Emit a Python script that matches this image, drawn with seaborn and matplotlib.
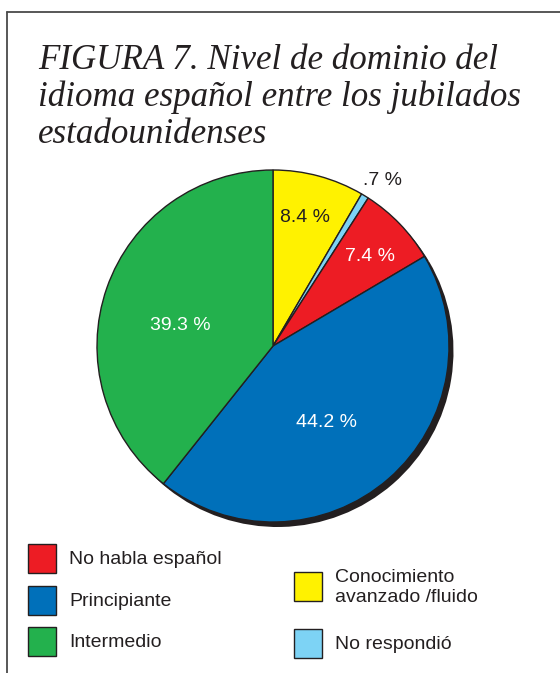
import numpy as np
import matplotlib
matplotlib.use("Agg")
import matplotlib.pyplot as plt
from matplotlib.patches import Rectangle
from matplotlib.lines import Line2D
import seaborn as sns

sns.set_theme(style="white")
plt.rcParams["font.family"] = ["Liberation Sans", "DejaVu Sans"]

# Survey shares, clockwise from 12 o'clock
categories = ["Conocimiento\navanzado /fluido", "No respondió", "No habla español",
              "Principiante", "Intermedio"]
shares = [8.4, 0.7, 7.4, 44.2, 39.3]
colors = ["#FFF200", "#7DD3F5", "#ED1C24", "#0070BA", "#23B14D"]
label_colors = ["#231F20", "#231F20", "white", "white", "white"]

# Legend order: left column then right column
legend_left = ["No habla español", "Principiante", "Intermedio"]
legend_right = ["Conocimiento\navanzado /fluido", "No respondió"]

title_lines = ["FIGURA 7. Nivel de dominio del",
               "idioma español entre los jubilados",
               "estadounidenses"]

W, H = 560, 673
fig = plt.figure(figsize=(W / 100, H / 100), dpi=100)
fig.patch.set_facecolor("white")

def fx(px):
    return px / W

def fy(py):
    return 1 - py / H

# Frame (top and left rules)
fig.add_artist(Line2D([fx(7), 1], [fy(12), fy(12)], color="#4a4a4a", lw=1.3))
fig.add_artist(Line2D([fx(7), fx(7)], [fy(12), 0], color="#4a4a4a", lw=1.3))

# Title
for i, line in enumerate(title_lines):
    fig.text(fx(38), fy(69 + 37 * i), line, family="Liberation Serif",
             style="italic", fontsize=25.2, color="#231F20", va="baseline", ha="left")

# Pie
cx, cy, r = 273, 346, 176
ax = fig.add_axes([fx(cx - r), (H - cy - r) / H, 2 * r / W, 2 * r / H])
ax.set_xlim(-1, 1)
ax.set_ylim(-1, 1)
ax.set_aspect("equal")
ax.axis("off")

# drop shadow
ax.pie(shares, colors=["#231F20"] * len(shares), startangle=90, counterclock=False,
       radius=1, center=(4.5 / r, -5 / r), wedgeprops=dict(linewidth=0),
       frame=False)
wedges, _ = ax.pie(shares, colors=colors, startangle=90, counterclock=False, radius=1,
                   wedgeprops=dict(edgecolor="#231F20", linewidth=1.0), frame=False)
ax.set_xlim(-1, 1)
ax.set_ylim(-1, 1)
for w in ax.patches:
    w.set_clip_on(False)

label_radius = [0.75, 1.13, 0.75, 0.53, 0.54]
label_nudge = [1, -2, -1, -6, 7]
for w, v, lc, rr, dn in zip(wedges, shares, label_colors, label_radius, label_nudge):
    ang = np.deg2rad((w.theta1 + w.theta2) / 2 + dn)
    txt = f"{v:.1f} %"
    if txt.startswith("0"):
        txt = txt[1:]
    ax.text(rr * np.cos(ang), rr * np.sin(ang), txt, ha="center", va="center",
            fontsize=14, color=lc)

# Legend
color_of = dict(zip(categories, colors))

def swatch(x, ytop, label):
    fig.add_artist(Rectangle((fx(x), fy(ytop + 29)), 28 / W, 29 / H,
                             facecolor=color_of[label], edgecolor="#231F20", lw=1.0))
    fig.text(fx(x + 41), fy(ytop + 15.5), label, fontsize=14, color="#231F20",
             va="center", ha="left", linespacing=1.25)

for label, ytop in zip(legend_left, [544, 586, 627]):
    swatch(28, ytop, label)
for label, ytop in zip(legend_right, [572, 629]):
    swatch(294, ytop, label)

fig.savefig("out.png", dpi=100, facecolor="white")
